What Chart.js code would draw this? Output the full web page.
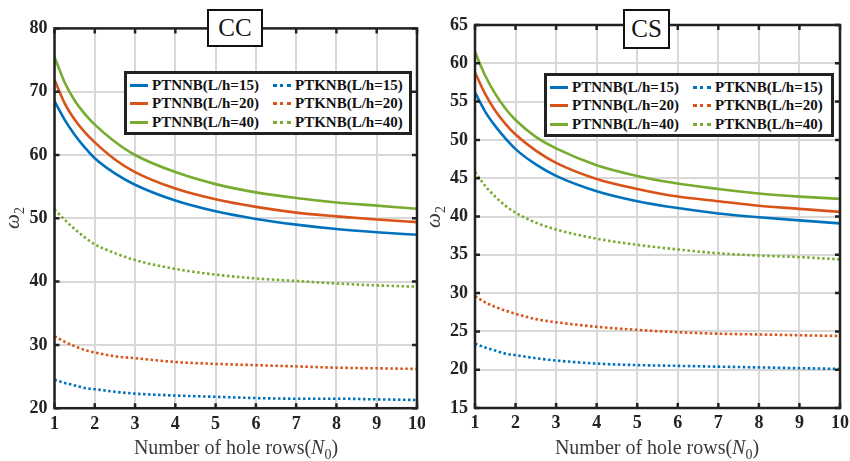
<!DOCTYPE html>
<html>
<head>
<meta charset="utf-8">
<script src="https://cdn.jsdelivr.net/npm/chart.js@4"></script>
<style>
  body { margin: 0; background: #fff; }
  #wrap { position: relative; width: 850px; height: 461px; background: #fff; overflow: hidden; }
  canvas { position: absolute; top: 0; }
  .tag { position: absolute; background: #fff; border: 2.5px solid #111; font: 25px "Liberation Serif", serif; color: #111;
         display: flex; align-items: center; justify-content: center; box-sizing: border-box; }
  .legend { position: absolute; background: #fff; border: 3px solid #222; box-sizing: border-box; }
  .item { position: absolute; display: flex; align-items: center; font: bold 15px "Liberation Serif", serif; color: #111; white-space: nowrap; }
  .sample { width: 18px; height: 0; margin-right: 4px; }
  .xtitle { position: absolute; font: 20px "Liberation Serif", serif; color: #3a3a3a; transform: translate(-50%, -50%); white-space: nowrap; }
  .ytitle { position: absolute; font: italic 21px "Liberation Serif", serif; color: #3a3a3a; transform: translate(-50%, -50%) rotate(-90deg); white-space: nowrap; }
</style>
</head>
<body>
<div id="wrap">
  <canvas id="cc" width="425" height="461" style="left:0"></canvas>
  <canvas id="cs" width="425" height="461" style="left:425px"></canvas>
</div>
<script>
// number of hole rows (N0)
const xValues = [1, 1.25, 1.5, 1.75, 2, 2.5, 3, 4, 5, 6, 7, 8, 9, 10];

const seriesLabels = ['PTNNB(L/h=15)', 'PTNNB(L/h=20)', 'PTNNB(L/h=40)',
                      'PTKNB(L/h=15)', 'PTKNB(L/h=20)', 'PTKNB(L/h=40)'];

// CC boundary condition
const ccTnnb15 = [68.5, 65.6, 63.2, 61.2, 59.5, 57.1, 55.3, 52.8, 51.1, 49.9, 49.0, 48.3, 47.8, 47.4];
const ccTnnb20 = [71.9, 68.2, 65.6, 63.6, 62.0, 59.3, 57.3, 54.7, 53.0, 51.8, 50.9, 50.3, 49.8, 49.4];
const ccTnnb40 = [75.5, 71.5, 68.6, 66.5, 64.8, 62.1, 60.0, 57.3, 55.4, 54.1, 53.2, 52.5, 52.0, 51.5];
const ccTknb15 = [24.5, 24.0, 23.6, 23.2, 23.0, 22.6, 22.3, 22.0, 21.8, 21.6, 21.5, 21.5, 21.4, 21.3];
const ccTknb20 = [31.4, 30.5, 29.8, 29.2, 28.8, 28.2, 27.9, 27.3, 27.0, 26.8, 26.6, 26.4, 26.3, 26.2];
const ccTknb40 = [51.4, 49.8, 48.3, 47.0, 45.9, 44.5, 43.4, 42.0, 41.1, 40.5, 40.1, 39.7, 39.4, 39.2];

// CS boundary condition
const csTnnb15 = [56.2, 53.7, 51.8, 50.2, 48.8, 46.8, 45.3, 43.3, 42.0, 41.1, 40.4, 39.9, 39.5, 39.1];
const csTnnb20 = [58.8, 56.0, 53.8, 52.1, 50.7, 48.6, 47.0, 44.9, 43.6, 42.6, 42.0, 41.4, 41.0, 40.6];
const csTnnb40 = [61.5, 58.4, 56.0, 54.1, 52.6, 50.4, 48.9, 46.7, 45.3, 44.3, 43.6, 43.0, 42.6, 42.3];
const csTknb15 = [23.4, 22.9, 22.5, 22.1, 21.9, 21.5, 21.2, 20.8, 20.6, 20.5, 20.4, 20.3, 20.2, 20.1];
const csTknb20 = [29.6, 28.8, 28.2, 27.7, 27.3, 26.6, 26.2, 25.6, 25.2, 24.9, 24.7, 24.6, 24.5, 24.4];
const csTknb40 = [45.8, 44.0, 42.6, 41.4, 40.5, 39.2, 38.3, 37.1, 36.3, 35.7, 35.2, 34.9, 34.7, 34.4];

const colors = ['#0072BD', '#D95319', '#77AC30', '#0072BD', '#D95319', '#77AC30'];
const dotted = [false, false, false, true, true, true];

const tickFont = { family: '"Liberation Serif", serif', size: 18, weight: 'bold' };

// box around plot + inward ticks on all four sides
const framePlugin = {
  id: 'frame',
  afterDraw(chart) {
    const { ctx, chartArea: a, scales } = chart;
    ctx.save();
    ctx.strokeStyle = '#222';
    ctx.lineWidth = 2.5;
    ctx.beginPath();
    scales.x.ticks.forEach(t => {
      const px = scales.x.getPixelForValue(t.value);
      ctx.moveTo(px, a.bottom); ctx.lineTo(px, a.bottom - 5);
      ctx.moveTo(px, a.top); ctx.lineTo(px, a.top + 5);
    });
    scales.y.ticks.forEach(t => {
      const py = scales.y.getPixelForValue(t.value);
      ctx.moveTo(a.left, py); ctx.lineTo(a.left + 5, py);
      ctx.moveTo(a.right, py); ctx.lineTo(a.right - 5, py);
    });
    ctx.stroke();
    ctx.lineWidth = 2.5;
    ctx.strokeRect(a.left, a.top, a.right - a.left, a.bottom - a.top);
    ctx.restore();
  }
};

function makePanel(p) {
  const datasets = p.series.map((vals, i) => ({
    label: seriesLabels[i],
    data: xValues.map((x, j) => ({ x: x, y: vals[j] })),
    borderColor: colors[i],
    borderWidth: 2.6,
    borderDash: dotted[i] ? [2.5, 2.5] : [],
    pointRadius: 0,
    cubicInterpolationMode: 'monotone',
    fill: false
  }));

  new Chart(document.getElementById(p.id), {
    type: 'line',
    data: { datasets: datasets },
    options: {
      responsive: false,
      animation: false,
      devicePixelRatio: 1,
      layout: { padding: { top: p.top, right: p.right, left: 0, bottom: 0 } },
      plugins: { legend: { display: false }, tooltip: { enabled: false } },
      scales: {
        x: {
          type: 'linear', min: 1, max: 10,
          ticks: { stepSize: 1, color: '#222', font: tickFont, padding: 5, maxRotation: 0 },
          grid: { color: '#d8d8d8', lineWidth: 2, drawTicks: false },
          border: { display: false },
          afterFit: s => { s.height = p.xAxisH; s.paddingLeft = 0; s.paddingRight = 0; }
        },
        y: {
          min: p.yMin, max: p.yMax,
          ticks: { stepSize: p.yStep, color: '#222', font: tickFont, padding: 7 },
          grid: { color: '#d8d8d8', lineWidth: 2, drawTicks: false },
          border: { display: false },
          afterFit: s => { s.width = p.yAxisW; }
        }
      }
    },
    plugins: [framePlugin]
  });

  const wrap = document.getElementById('wrap');

  const tag = document.createElement('div');
  tag.className = 'tag';
  tag.textContent = p.tag;
  Object.assign(tag.style, { left: p.tagBox[0] + 'px', top: p.tagBox[1] + 'px', width: p.tagBox[2] + 'px', height: p.tagBox[3] + 'px' });
  wrap.appendChild(tag);

  const lg = document.createElement('div');
  lg.className = 'legend';
  Object.assign(lg.style, { left: p.legend[0] + 'px', top: p.legend[1] + 'px', width: p.legend[2] + 'px', height: p.legend[3] + 'px' });
  datasets.forEach((d, i) => {
    const it = document.createElement('div');
    it.className = 'item';
    const col = dotted[i] ? 1 : 0;
    const row = i % 3;
    it.style.left = (col ? 146 : 3) + 'px';
    it.style.top = (row * 18.5 + 1) + 'px';
    it.style.height = '20px';
    const sm = document.createElement('span');
    sm.className = 'sample';
    sm.style.borderTop = dotted[i] ? '3px dotted ' + colors[i] : '3px solid ' + colors[i];
    it.appendChild(sm);
    it.appendChild(document.createTextNode(d.label));
    lg.appendChild(it);
  });
  wrap.appendChild(lg);

  const xt = document.createElement('div');
  xt.className = 'xtitle';
  xt.innerHTML = 'Number of hole rows(<i>N</i><sub style="font-size:14px">0</sub>)';
  Object.assign(xt.style, { left: p.xTitle[0] + 'px', top: p.xTitle[1] + 'px' });
  wrap.appendChild(xt);

  const yt = document.createElement('div');
  yt.className = 'ytitle';
  yt.innerHTML = 'ω<sub style="font-size:14px;font-style:normal">2</sub>';
  Object.assign(yt.style, { left: p.yTitle[0] + 'px', top: p.yTitle[1] + 'px' });
  wrap.appendChild(yt);
}

makePanel({
  id: 'cc', tag: 'CC',
  series: [ccTnnb15, ccTnnb20, ccTnnb40, ccTknb15, ccTknb20, ccTknb40],
  yMin: 20, yMax: 80, yStep: 10,
  top: 28.4, right: 8, yAxisW: 54.5, xAxisH: 52.8,
  tagBox: [207, 9, 56, 38],
  legend: [124, 71, 288, 64],
  xTitle: [236, 449], yTitle: [14, 218]
});

makePanel({
  id: 'cs', tag: 'CS',
  series: [csTnnb15, csTnnb20, csTnnb40, csTknb15, csTknb20, csTknb40],
  yMin: 15, yMax: 65, yStep: 5,
  top: 25, right: 10, yAxisW: 50, xAxisH: 53,
  tagBox: [623, 9, 47, 40],
  legend: [544, 73, 290, 64],
  xTitle: [657, 449], yTitle: [435, 217]
});
</script>
</body>
</html>
